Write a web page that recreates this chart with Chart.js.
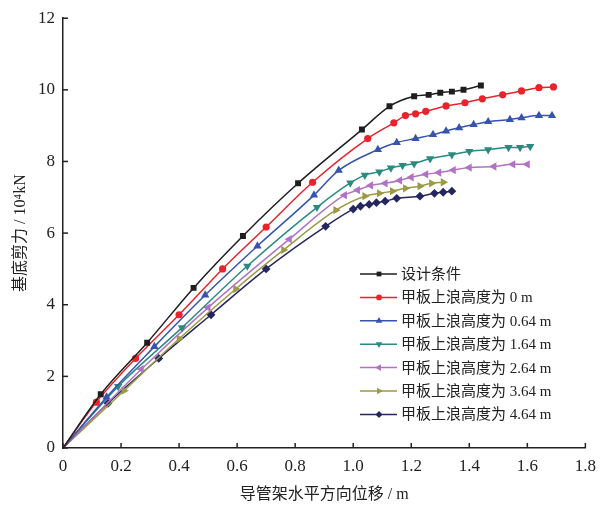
<!DOCTYPE html>
<html>
<head>
<meta charset="utf-8">
<script src="https://cdn.jsdelivr.net/npm/chart.js@4.4.1/dist/chart.umd.min.js"></script>
<style>
  html, body { margin: 0; padding: 0; background: #fff; }
  #wrap { width: 604px; height: 508px; position: relative; }
</style>
</head>
<body>
<div id="wrap"><canvas id="shear-chart" width="604" height="508"></canvas></div>
<script>
// Series names (legend)
const seriesNames = ['设计条件', '甲板上浪高度为 0 m', '甲板上浪高度为 0.64 m', '甲板上浪高度为 1.64 m',
    '甲板上浪高度为 2.64 m', '甲板上浪高度为 3.64 m', '甲板上浪高度为 4.64 m'];

// Displacement (m) and base shear (10^4 kN)
const designX = [0, 0.13, 0.29, 0.45, 0.62, 0.81, 1.03, 1.125, 1.21, 1.26, 1.30, 1.34, 1.38, 1.44];
const designY = [0, 1.5, 2.94, 4.47, 5.92, 7.39, 8.89, 9.54, 9.82, 9.86, 9.92, 9.95, 10.0, 10.12];

const wave0X = [0, 0.115, 0.25, 0.40, 0.55, 0.70, 0.86, 1.05, 1.14, 1.18, 1.215, 1.25, 1.32, 1.385, 1.445, 1.515, 1.58, 1.64, 1.69];
const wave0Y = [0, 1.28, 2.5, 3.72, 5.0, 6.17, 7.42, 8.64, 9.08, 9.28, 9.33, 9.4, 9.55, 9.64, 9.75, 9.86, 9.97, 10.06, 10.08];

const wave064X = [0, 0.15, 0.315, 0.49, 0.67, 0.865, 0.95, 1.085, 1.15, 1.215, 1.275, 1.32, 1.365, 1.415, 1.465, 1.54, 1.58, 1.64, 1.685];
const wave064Y = [0, 1.42, 2.83, 4.27, 5.64, 7.06, 7.75, 8.33, 8.53, 8.64, 8.75, 8.85, 8.94, 9.03, 9.11, 9.17, 9.22, 9.28, 9.28];

const wave164X = [0, 0.19, 0.41, 0.635, 0.875, 0.99, 1.04, 1.09, 1.13, 1.17, 1.21, 1.265, 1.34, 1.40, 1.465, 1.535, 1.575, 1.61];
const wave164Y = [0, 1.72, 3.36, 5.08, 6.72, 7.4, 7.62, 7.71, 7.82, 7.89, 7.94, 8.08, 8.19, 8.28, 8.33, 8.39, 8.39, 8.42];

const wave264X = [0, 0.27, 0.5, 0.78, 0.97, 1.015, 1.06, 1.11, 1.16, 1.20, 1.25, 1.295, 1.345, 1.40, 1.485, 1.55, 1.60];
const wave264Y = [0, 2.2, 3.92, 5.83, 7.06, 7.2, 7.33, 7.39, 7.47, 7.56, 7.64, 7.69, 7.76, 7.83, 7.86, 7.92, 7.92];

const wave364X = [0, 0.21, 0.40, 0.595, 0.76, 0.94, 1.04, 1.09, 1.135, 1.18, 1.23, 1.27, 1.31];
const wave364Y = [0, 1.6, 3.05, 4.44, 5.53, 6.64, 7.03, 7.11, 7.17, 7.25, 7.31, 7.39, 7.42];

const wave464X = [0, 0.155, 0.33, 0.51, 0.70, 0.905, 1.0, 1.025, 1.055, 1.08, 1.11, 1.15, 1.23, 1.28, 1.31, 1.34];
const wave464Y = [0, 1.25, 2.5, 3.72, 5.0, 6.19, 6.67, 6.75, 6.8, 6.85, 6.89, 6.97, 7.03, 7.11, 7.14, 7.17];

// Axis ticks
const xTicks = [0, 0.2, 0.4, 0.6, 0.8, 1.0, 1.2, 1.4, 1.6, 1.8];
const yTicks = [0, 2, 4, 6, 8, 10, 12];

// Styles per series
const colors = ['#1e1e1e', '#e8232b', '#3653b0', '#2b8a80', '#b272c4', '#9c9a45', '#26265e'];
const markers = [
    { style: 'rect', rotation: 0, radius: 4.2 },
    { style: 'circle', rotation: 0, radius: 3.6 },
    { style: 'triangle', rotation: 0, radius: 4.8 },
    { style: 'triangle', rotation: 180, radius: 4.8 },
    { style: 'triangle', rotation: -90, radius: 4.8 },
    { style: 'triangle', rotation: 90, radius: 4.8 },
    { style: 'rectRot', rotation: 0, radius: 4.4 }
];

const seriesX = [designX, wave0X, wave064X, wave164X, wave264X, wave364X, wave464X];
const seriesY = [designY, wave0Y, wave064Y, wave164Y, wave264Y, wave364Y, wave464Y];

const fontFamily = '"Liberation Serif", "Noto Sans CJK SC", serif';

function toPoints(xs, ys) {
    return xs.map((x, i) => ({ x: x, y: ys[i] }));
}

const datasets = seriesNames.map((name, i) => ({
    label: name,
    data: toPoints(seriesX[i], seriesY[i]),
    borderColor: colors[i],
    backgroundColor: colors[i],
    borderWidth: 1.5,
    pointStyle: markers[i].style,
    rotation: markers[i].rotation,
    pointRadius: (ctx) => ctx.dataIndex === 0 ? 0 : markers[i].radius,
    pointBorderWidth: 0,
    cubicInterpolationMode: 'monotone'
}));

// Inward tick marks and the legend box inside the plot
const decorPlugin = {
    id: 'decor',
    afterDraw(chart) {
        const ctx = chart.ctx;
        const area = chart.chartArea;
        const xs = chart.scales.x;
        const ys = chart.scales.y;
        ctx.save();
        ctx.strokeStyle = '#222';
        ctx.lineWidth = 1.5;
        xTicks.forEach((v) => {
            const px = xs.getPixelForValue(v);
            ctx.beginPath();
            ctx.moveTo(px, area.bottom);
            ctx.lineTo(px, area.bottom - 5);
            ctx.stroke();
        });
        yTicks.forEach((v) => {
            const py = ys.getPixelForValue(v);
            ctx.beginPath();
            ctx.moveTo(area.left, py);
            ctx.lineTo(area.left + 5, py);
            ctx.stroke();
        });

        // legend
        const lx = 360;
        let ly = 274;
        const rowGap = 23.4;
        ctx.font = '15px ' + fontFamily;
        ctx.textBaseline = 'middle';
        ctx.textAlign = 'left';
        chart.data.datasets.forEach((ds, i) => {
            ctx.strokeStyle = colors[i];
            ctx.fillStyle = colors[i];
            ctx.lineWidth = 1.5;
            ctx.beginPath();
            ctx.moveTo(lx, ly);
            ctx.lineTo(lx + 37, ly);
            ctx.stroke();
            Chart.helpers.drawPoint(ctx, {
                pointStyle: markers[i].style,
                rotation: markers[i].rotation,
                radius: markers[i].radius * 0.8,
                borderWidth: 0
            }, lx + 19, ly);
            ctx.fillStyle = '#222';
            ctx.fillText(ds.label, lx + 41, ly + 1);
            ly += rowGap;
        });
        ctx.restore();
    }
};

const chartCanvas = document.getElementById('shear-chart');
const shearChart = new Chart(chartCanvas.getContext('2d'), {
    type: 'line',
    data: { datasets: datasets },
    options: {
        responsive: false,
        animation: false,
        layout: { padding: { left: 0, top: 16, right: 16, bottom: 0 } },
        plugins: {
            legend: { display: false },
            tooltip: { enabled: false }
        },
        scales: {
            x: {
                type: 'linear',
                min: 0,
                max: 1.8,
                afterBuildTicks: (scale) => { scale.ticks = xTicks.map((v) => ({ value: v })); },
                afterFit: (scale) => { scale.height = 60; },
                grid: { display: false, drawTicks: false },
                border: { display: true, color: '#222', width: 1.5 },
                ticks: {
                    color: '#222',
                    padding: 8,
                    font: { family: fontFamily, size: 17 },
                    callback: (v) => v === 0 ? '0' : v.toFixed(1)
                },
                title: {
                    display: true,
                    text: '导管架水平方向位移 / m',
                    color: '#222',
                    font: { family: fontFamily, size: 16 },
                    padding: { top: 4 }
                }
            },
            y: {
                type: 'linear',
                min: 0,
                max: 12,
                afterBuildTicks: (scale) => { scale.ticks = yTicks.map((v) => ({ value: v })); },
                afterFit: (scale) => { scale.width = 63; },
                grid: { display: false, drawTicks: false },
                border: { display: true, color: '#222', width: 1.5 },
                ticks: {
                    color: '#222',
                    padding: 8,
                    font: { family: fontFamily, size: 17 }
                },
                title: {
                    display: true,
                    text: '基底剪力 / 10⁴kN',
                    color: '#222',
                    font: { family: fontFamily, size: 16 },
                    padding: { top: 11, bottom: 0 }
                }
            }
        }
    },
    plugins: [decorPlugin]
});
</script>
</body>
</html>
